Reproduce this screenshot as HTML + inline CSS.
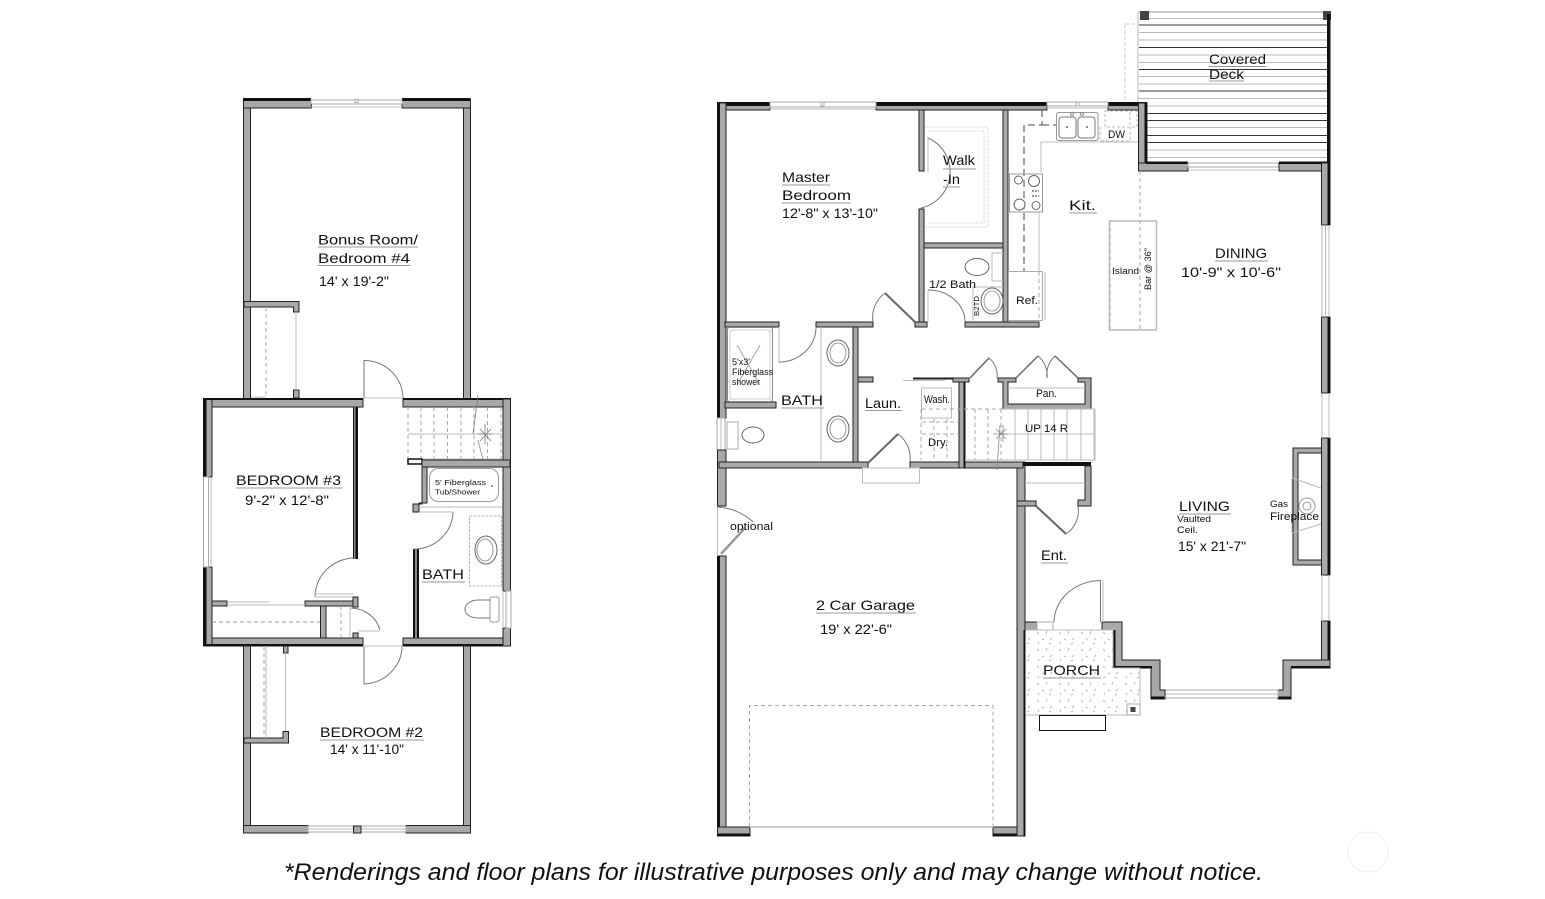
<!DOCTYPE html>
<html><head><meta charset="utf-8"><style>
html,body{margin:0;padding:0;background:#fff}
svg{display:block}
.w{fill:#a8a8a8;stroke:#222;stroke-width:1}
.k{fill:#111}
.l{fill:none;stroke:#777;stroke-width:1}
.g{fill:none;stroke:#bbb;stroke-width:1}
.d{fill:none;stroke:#aaa;stroke-width:1;stroke-dasharray:4 3}
.dk{fill:none;stroke:#444;stroke-width:1;stroke-dasharray:7 4}
.u{stroke:#999;stroke-width:1}
.win{fill:#fff;stroke:#aaa;stroke-width:1}
text{font-family:"Liberation Sans",sans-serif;fill:#111}
</style></head><body>
<svg width="1545" height="899" viewBox="0 0 1545 899" xmlns="http://www.w3.org/2000/svg">
<defs><pattern id="st" width="22" height="17" patternUnits="userSpaceOnUse"><path d="M3 3l2 2M13 2l-1 3M8 10l2 1M18 9l-2 2M4 15l1-2M15 15l2-1" stroke="#bbb" stroke-width="1" fill="none"/></pattern></defs>

<!-- LEFT PLAN -->
<rect class="w" x="243.5" y="99" width="7" height="308"/>
<rect class="w" x="463.5" y="99" width="7" height="308"/>
<rect class="w" x="243.5" y="100" width="68" height="8"/>
<rect class="w" x="402" y="100" width="68.5" height="8"/>
<rect class="k" x="243" y="98" width="68" height="3"/><rect class="k" x="402" y="98" width="68" height="3"/>
<rect class="win" x="311" y="100" width="91" height="4"/><path class="g" d="M311 107H402"/><rect class="win" x="355" y="99.5" width="3" height="3"/>
<path class="w" d="M244 301.5H299V312H293.500V307H244Z"/>
<path class="w" d="M293.500 390H299V398H293.500Z"/>
<path class="g" d="M296 312V390"/><path class="d" d="M266 307V398"/><path class="g" d="M251 397H266"/>
<path class="l" d="M364 398V360.500A39 38 0 0 1 403 398"/><path class="g" d="M363 398H403"/>
<rect class="w" x="204" y="399" width="159" height="8"/>
<rect class="w" x="403" y="399" width="107" height="8"/>
<rect class="w" x="204" y="638" width="159" height="8"/>
<rect class="w" x="403" y="638" width="107.500" height="8"/>
<rect class="w" x="204" y="399" width="8" height="78"/>
<rect class="w" x="204" y="567" width="8" height="79"/>
<rect class="k" x="203" y="399" width="3.500" height="78"/><rect class="k" x="203" y="567" width="3.500" height="79"/>
<rect class="k" x="203" y="644" width="160" height="2"/><rect class="k" x="403" y="644" width="108" height="2"/><rect class="k" x="203" y="398" width="160" height="2"/><rect class="k" x="403" y="398" width="108" height="2"/>
<rect class="win" x="203.500" y="477" width="5" height="90"/><path class="g" d="M211 477V567"/>
<rect class="w" x="503" y="399" width="7.500" height="192"/>
<rect class="w" x="503" y="628" width="7.500" height="18"/>
<rect class="win" x="506" y="591" width="5" height="37"/><path class="g" d="M503 591V628"/>
<rect class="k" x="353" y="407" width="5" height="152"/><rect fill="#888" x="354" y="407" width="1.500" height="152"/>
<path class="l" d="M355 558A40 39 0 0 0 315 597"/><path class="g" d="M315 597H353M315 594H353"/>
<rect class="w" x="212" y="601" width="15" height="5"/><rect class="w" x="305" y="601" width="48" height="5"/>
<rect class="w" x="353" y="597" width="5" height="10"/>
<path class="g" d="M227 602H270M227 605H305"/>
<path class="d" d="M212 622H320" style="stroke:#999"/>
<rect class="w" x="320.500" y="606" width="5.500" height="32"/>
<path class="d" d="M341 606V637"/><path class="g" d="M350 606V637"/>
<path class="l" d="M351 608A31 29 0 0 1 380 630"/><path class="g" d="M358 631H380"/>
<rect class="w" x="353" y="633" width="5" height="5"/>
<path class="l" d="M364 646V684A40 38 0 0 0 402 646"/><path class="g" d="M363 646H403"/>
<path class="g" d="M408 434H502M408 459H502"/>
<path class="d" d="M408 407V459M421 407V459M434 407V459M447.500 407V459M461 407V459M474 407V459M487.500 407V459M501 407V459" />
<path d="M478 395L473 434M485 424L485 444M478 434H492M480 429L491 441M491 429L480 441" stroke="#777" stroke-width=".8" fill="none"/>
<path d="M478 440L483 460M483 460V478" stroke="#888" stroke-width=".8" fill="none"/>
<rect x="408" y="459" width="14" height="5" fill="#fff" stroke="#111" stroke-width="1.500"/>
<rect class="w" x="422" y="460" width="88" height="7"/>
<path class="w" d="M422 467H427V503H419V512H413V504H422Z"/>
<rect class="k" x="413" y="549" width="6" height="89"/><rect fill="#888" x="415" y="549" width="2" height="89"/>
<path class="l" d="M414 549A39 38 0 0 0 453 512"/><path class="g" d="M419 512H453M419 507H502"/>
<rect x="429.500" y="468.500" width="69" height="33" rx="9" fill="#fff" stroke="#999"/>
<circle cx="492" cy="486" r="1" fill="#777"/>
<rect x="469.500" y="516" width="32" height="70" fill="#fff" stroke="#bbb" stroke-dasharray="3 1"/>
<ellipse cx="486" cy="550" rx="11" ry="14" fill="#fff" stroke="#666"/><ellipse cx="485" cy="550" rx="8" ry="11" fill="none" stroke="#999"/>
<rect x="490" y="597" width="9" height="25" rx="2" fill="#fff" stroke="#999"/>
<path class="l" d="M490 600H478C470 600 465 605 465 609C465 614 470 618 478 618H490"/>
<rect class="w" x="243.500" y="646" width="7" height="187"/>
<rect class="w" x="463.500" y="646" width="7" height="187"/>
<rect class="w" x="243.500" y="825.500" width="64.500" height="7.500"/>
<rect class="w" x="406" y="825.500" width="64.500" height="7.500"/>
<rect class="win" x="308" y="826" width="98" height="6"/><path class="g" d="M308 829H406"/>
<rect class="w" x="353.500" y="826" width="7.500" height="7"/>
<path class="w" d="M283.500 646H288V653H283.500Z"/>
<path class="w" d="M244 738H283V731.500H288.500V743H244Z"/>
<path class="g" d="M285.500 653V731"/><path class="d" d="M264 646V738"/><path class="g" d="M266 646V738"/>
<g font-size="14">
<text x="318" y="244.500" textLength="100" lengthAdjust="spacingAndGlyphs">Bonus Room/</text><path class="u" d="M318 247H418"/>
<text x="318" y="263" textLength="92" lengthAdjust="spacingAndGlyphs">Bedroom #4</text><path class="u" d="M318 265.500H410"/>
<text x="319" y="286" textLength="70" lengthAdjust="spacingAndGlyphs">14' x 19'-2"</text>
<text x="236" y="485" textLength="105" lengthAdjust="spacingAndGlyphs">BEDROOM #3</text><path class="u" d="M236 488H342"/>
<text x="245" y="505" textLength="84" lengthAdjust="spacingAndGlyphs">9'-2" x 12'-8"</text>
<text x="422" y="579" textLength="42" lengthAdjust="spacingAndGlyphs">BATH</text><path class="u" d="M422 582H465"/>
<text x="320" y="737" textLength="103" lengthAdjust="spacingAndGlyphs">BEDROOM #2</text><path class="u" d="M320 740H424"/>
<text x="330" y="754" textLength="74" lengthAdjust="spacingAndGlyphs">14' x 11'-10"</text>
</g>
<g font-size="7.500">
<text x="435" y="485" textLength="51" lengthAdjust="spacingAndGlyphs">5' Fiberglass</text>
<text x="435" y="494.500" textLength="45" lengthAdjust="spacingAndGlyphs">Tub/Shower</text>
</g>

<!-- RIGHT PLAN -->
<path d="M1125 24H1138M1125 24V102" stroke="#ccc" stroke-dasharray="4 2" fill="none"/>
<rect x="1138" y="11" width="190" height="2" fill="#ccc"/><path class="g" d="M1138 13V102"/>
<g stroke="#b8b8b8" stroke-width="1" fill="none">
<path d="M1139 18.500H1327M1139 32.500H1327M1139 40H1327M1139 55H1327M1139 62.500H1327M1139 76.500H1327M1139 84H1327M1139 98.500H1327M1147 106H1327M1147 127.500H1327M1147 150H1327M1147 157.500H1327"/>
</g>
<g stroke="#333" stroke-width="1" fill="none">
<path d="M1139 25H1327M1139 47.500H1327M1139 69.500H1327M1139 91H1327M1147 113.500H1327M1147 120.500H1327M1147 135.500H1327M1147 142.500H1327"/>
</g>
<rect x="1140" y="11" width="9" height="9" fill="#444"/><rect x="1323" y="11" width="8" height="9" fill="#444"/>
<rect class="k" x="1327" y="14" width="3.500" height="149"/>
<rect class="w" x="717.500" y="103" width="52.500" height="7"/>
<rect class="w" x="876" y="103" width="171" height="7"/>
<rect class="w" x="1108" y="103" width="39" height="7"/>
<rect class="k" x="717" y="102" width="53" height="4"/><rect class="k" x="876" y="102" width="171" height="4"/><rect class="k" x="1108" y="102" width="39" height="4"/>
<rect class="win" x="770" y="102" width="106" height="5"/><path class="g" d="M770 109H876"/><rect class="win" x="821" y="102" width="3" height="4"/>
<rect class="win" x="1047" y="102" width="61" height="4"/><path class="g" d="M1047 108H1108"/><rect class="win" x="1076" y="102" width="3" height="4"/>
<rect class="w" x="1138.500" y="103" width="8.500" height="68"/>
<rect class="k" x="1144.500" y="103" width="2.500" height="60"/>
<rect class="w" x="1138.500" y="163" width="49.500" height="8"/>
<rect class="k" x="1146" y="161.500" width="42" height="2.500"/>
<rect class="win" x="1188" y="163" width="91" height="4"/><path class="g" d="M1188 170H1279"/>
<rect class="w" x="1279" y="163" width="51" height="8"/>
<rect class="k" x="1279" y="161.500" width="51" height="2.500"/>
<rect class="w" x="1321.500" y="163" width="8.500" height="62"/>
<rect class="w" x="1321.500" y="317" width="8.500" height="76"/>
<rect class="w" x="1321.500" y="438" width="8.500" height="137"/>
<rect class="w" x="1321.500" y="621" width="8.500" height="47"/>
<rect class="k" x="1327.500" y="163" width="2.500" height="62"/><rect class="k" x="1327.500" y="317" width="2.500" height="76"/><rect class="k" x="1327.500" y="438" width="2.500" height="137"/><rect class="k" x="1327.500" y="621" width="2.500" height="47"/>
<path class="g" d="M1322 225V317M1329 225V317M1322 393V438M1329 393V438M1322 575V621M1329 575V621M1325.500 225V317"/>
<path class="w" d="M1330 660V668H1291V699H1278V690H1283V660Z"/>
<rect class="k" x="1291" y="666" width="39" height="2.500"/><rect class="k" x="1278" y="696.500" width="13" height="2.500"/>
<rect class="win" x="1165" y="690" width="113" height="8"/><path class="g" d="M1165 694H1278"/>
<path class="w" d="M1113 622H1122V660H1160V690H1165V699H1151V668H1113V630H1102V622Z"/>
<rect class="k" x="1113" y="666" width="39" height="2.500"/><rect class="k" x="1113" y="630" width="2.500" height="38"/><rect class="k" x="1151" y="696.500" width="13" height="2.500"/>
<rect class="w" x="1024" y="622" width="13" height="8"/>
<rect class="win" x="1037" y="622" width="16" height="8"/>
<path class="l" d="M1100.500 622V580.500A47 42 0 0 0 1054 622"/><path class="g" d="M1103 622V580"/>
<path d="M1025 630H1113V668H1140V715H1025Z" fill="url(#st)" stroke="#bbb" stroke-width="1"/>
<rect x="1127" y="704" width="13" height="11" fill="#fff" stroke="#aaa"/><rect x="1130.500" y="707" width="5" height="5" fill="#444"/>
<rect x="1039.500" y="715.500" width="66" height="15" fill="#fff" stroke="#111" stroke-width="1"/>
<rect class="w" x="717.500" y="103" width="8.500" height="315"/>
<rect class="k" x="717" y="103" width="3" height="315"/>
<rect class="win" x="717" y="418" width="8" height="32"/><path class="g" d="M721 418V450"/>
<rect class="w" x="717.500" y="450" width="8.500" height="56"/>
<rect class="w" x="717.500" y="556" width="8.500" height="280"/>
<rect class="k" x="717" y="556" width="3" height="280"/>
<rect class="w" x="717.500" y="827" width="32.500" height="9"/><rect class="k" x="717" y="833.500" width="33" height="2.500"/>
<rect class="w" x="993" y="827" width="32" height="9"/><rect class="k" x="993" y="833.500" width="32" height="2.500"/>
<rect class="w" x="1017" y="462" width="8" height="374"/>
<rect class="k" x="1023.500" y="630" width="1.500" height="206"/>
<path class="d" d="M749.500 827V705.500H993V827"/>
<path d="M750 827H993" stroke="#ccc" stroke-width="2"/>
<path class="g" d="M717.500 506V556"/><path class="l" d="M717 507A52 44 0 0 1 753 522"/>
<path d="M721 554L745 528" stroke="#999" stroke-width="2.500" fill="none"/>
<rect class="w" x="719" y="462" width="149" height="6"/>
<rect class="w" x="910" y="462" width="113" height="6"/>
<rect class="k" x="1023" y="462" width="68" height="4"/>
<path class="w" d="M1085 466H1091V506H1078V500H1085Z"/>
<path class="w" d="M1017 501H1036V506H1017Z"/>
<path d="M1036 506L1066 534" stroke="#666" stroke-width="2" fill="none"/><path class="l" d="M1066 534A28 28 0 0 0 1078 506"/>
<path class="g" d="M1025 483H1085"/>
<rect x="862.500" y="468" width="57" height="15" fill="#fff" stroke="#bbb"/>
<path d="M868 463L898 434" stroke="#666" stroke-width="2" fill="none"/><path class="l" d="M898 434A30 30 0 0 1 910 462"/>
<rect class="w" x="919" y="110" width="5" height="61"/><rect class="w" x="919" y="209" width="5" height="114"/>
<rect class="w" x="1003" y="110" width="5" height="212"/>
<rect class="w" x="924" y="243" width="79" height="5"/>
<path d="M925 127H988V227H925M929 131H984V223H929" fill="none" stroke="#ddd" stroke-width="1" stroke-dasharray="3 1"/>
<path class="l" d="M928 171V138A37 37 0 0 1 921 208"/><path class="g" d="M928 138V172"/>
<rect class="w" x="725" y="322" width="54" height="5"/>
<rect class="w" x="816" y="322" width="57" height="5"/>
<rect class="w" x="915" y="322" width="12" height="5"/>
<rect class="w" x="965" y="322" width="74" height="5"/>
<path d="M885 293L915 322" stroke="#666" stroke-width="2" fill="none"/><path class="l" d="M873 322A30 30 0 0 1 885 293"/>
<path class="g" d="M928 290V322"/><path class="l" d="M928 290A37 32 0 0 1 965 322"/>
<rect class="w" x="853" y="327" width="5" height="135"/>
<rect class="w" x="858" y="377" width="15" height="5"/>
<rect class="w" x="725" y="402" width="51" height="6"/>
<path class="g" d="M779 327V362"/><path class="l" d="M779 362A37 35 0 0 0 816 327"/>
<rect x="727.500" y="327.500" width="45" height="74" rx="2" fill="#fff" stroke="#888"/><rect x="730" y="330" width="40" height="69" fill="none" stroke="#ccc"/>
<path d="M737 345L760 385M760 345L737 385" stroke="#aaa" fill="none"/>
<path class="g" d="M821 327V462"/>
<ellipse cx="838" cy="353" rx="11" ry="13" fill="#fff" stroke="#666"/><ellipse cx="838" cy="353" rx="8" ry="10" fill="none" stroke="#999"/>
<ellipse cx="838" cy="429" rx="11" ry="13" fill="#fff" stroke="#666"/><ellipse cx="838" cy="429" rx="8" ry="10" fill="none" stroke="#999"/>
<rect x="727" y="422" width="11" height="27" fill="#fff" stroke="#aaa"/>
<ellipse cx="753" cy="435" rx="11" ry="8" fill="#fff" stroke="#666"/>
<ellipse cx="977" cy="267" rx="12" ry="8.500" fill="#fff" stroke="#666"/>
<path class="g" d="M1003 253H992V281H1003"/>
<path class="g" d="M973 287V322M973 287H1003"/>
<ellipse cx="992" cy="301" rx="11" ry="13" fill="#fff" stroke="#666"/><ellipse cx="992" cy="301" rx="8" ry="10" fill="none" stroke="#999"/>
<path class="g" d="M1041 172V142H1138"/>
<rect x="1056.500" y="112.500" width="41.500" height="28" rx="2" fill="#fff" stroke="#999"/>
<rect x="1059" y="117" width="17" height="21" rx="3" fill="none" stroke="#777"/><rect x="1078" y="117" width="17" height="21" rx="3" fill="none" stroke="#777"/>
<circle cx="1067" cy="127" r="1" fill="#666"/><circle cx="1087" cy="127" r="1" fill="#666"/>
<circle cx="1072" cy="114" r="1.500" fill="none" stroke="#888"/><circle cx="1082" cy="114" r="1.500" fill="none" stroke="#888"/>
<path d="M1105 111H1137V127H1105Z" fill="none" stroke="#bbb" stroke-dasharray="3 2"/>
<path d="M1100 127V141H1130V112" fill="none" stroke="#bbb" stroke-dasharray="3 2"/>
<path class="dk" d="M1042 110V125H1024V272M1042 125H1056"/>
<rect x="1009.500" y="174" width="33" height="38" fill="none" stroke="#999"/>
<circle cx="1018.500" cy="180" r="4" fill="#fff" stroke="#666"/><circle cx="1034" cy="181" r="5.500" fill="#fff" stroke="#666"/>
<circle cx="1019.500" cy="204.500" r="5.500" fill="#fff" stroke="#666"/><circle cx="1036" cy="205.500" r="4" fill="#fff" stroke="#666"/>
<path d="M1032 191h7M1032 196h7" stroke="#777" stroke-width="1.500" stroke-dasharray="2 1"/>
<path class="g" d="M1039 212V272"/>
<rect x="1008.500" y="271.500" width="34" height="49" fill="#fff" stroke="#aaa"/><path class="d" d="M1039 272V320"/><path class="g" d="M1045 272V320"/>
<rect x="1109.500" y="221" width="47" height="109" fill="#fff" stroke="#bbb" stroke-width="1.500"/><path class="d" d="M1110 221V330"/>
<path class="d" d="M1140 171V330"/>
<rect x="913" y="377.500" width="47" height="2" fill="#222"/><path class="g" d="M903 380.500H945"/>
<rect class="w" x="953" y="378" width="16" height="4"/>
<rect class="w" x="959" y="382" width="6" height="86"/>
<path class="k" d="M963.500 382h1.500v86h-1.500z"/>
<path d="M970 378L989 358" stroke="#666" stroke-width="1.500" fill="none"/><path class="l" d="M989 358A22 22 0 0 1 997 378"/>
<path class="w" d="M998 378H1016V382H1008V404H1085V382H1078V378H1091V409H1003V382H998Z"/>
<path class="g" d="M1008 388H1085"/>
<path d="M1016 378L1038 356M1078 378L1055 356" stroke="#666" stroke-width="1.500" fill="none"/>
<path class="l" d="M1038 356A25 25 0 0 1 1047 378M1047 378A25 25 0 0 1 1055 356"/>
<rect x="921.500" y="388" width="30" height="30" fill="none" stroke="#bbb"/>
<path class="g" d="M1003 409H1095V460H965M1003 434H1095"/>
<path class="d" d="M922 409H1003M922 434H958M922 422H958"/>
<path class="d" d="M921 409V460M934 419V460M947 419V460M975 409V460M988 409V460"/>
<path class="g" d="M1015 409V460M1028 409V460M1041 409V460M1054 409V460M1067 409V460M1081 409V460M1094 409V460"/>
<path class="d" d="M1001 409V460"/>
<path d="M1000 425L997 470M1003 425V442M993 434H1008M996 429L1006 439M1006 429L996 439" stroke="#888" stroke-width=".8" fill="none"/>
<path class="w" d="M1321.500 448H1293V565H1321.500V560H1298V453H1321.500Z"/>
<path class="g" d="M1292 478L1321 488M1292 533L1321 524M1292 478V533"/>
<circle cx="1307" cy="506" r="8" fill="none" stroke="#999"/><circle cx="1307" cy="506" r="4" fill="none" stroke="#999"/>
<g font-size="14">
<text x="1209" y="64" textLength="57" lengthAdjust="spacingAndGlyphs">Covered</text><path class="u" d="M1209 66.500H1266"/>
<text x="1209" y="79" textLength="35" lengthAdjust="spacingAndGlyphs">Deck</text><path class="u" d="M1209 81H1244"/>
<text x="1215" y="258" textLength="52" lengthAdjust="spacingAndGlyphs">DINING</text><path class="u" d="M1215 261H1268"/>
<text x="1181" y="277" textLength="100" lengthAdjust="spacingAndGlyphs">10'-9" x 10'-6"</text>
<text x="782" y="182" textLength="48" lengthAdjust="spacingAndGlyphs">Master</text><path class="u" d="M782 185H830"/>
<text x="782" y="200" textLength="69" lengthAdjust="spacingAndGlyphs">Bedroom</text><path class="u" d="M782 203H851"/>
<text x="782" y="218" textLength="96" lengthAdjust="spacingAndGlyphs">12'-8" x 13'-10"</text>
<text x="943" y="165" textLength="32" lengthAdjust="spacingAndGlyphs">Walk</text><path class="u" d="M943 169H976"/>
<text x="943" y="184" textLength="17" lengthAdjust="spacingAndGlyphs">-In</text><path class="u" d="M943 187H960"/>
<text x="781" y="405" textLength="42" lengthAdjust="spacingAndGlyphs">BATH</text><path class="u" d="M781 408H824"/>
<text x="865" y="408" textLength="36" lengthAdjust="spacingAndGlyphs">Laun.</text><path class="u" d="M865 410.500H902"/>
<text x="1069" y="210" textLength="27" lengthAdjust="spacingAndGlyphs">Kit.</text><path class="u" d="M1069 213H1097"/>
<text x="816" y="610" textLength="99" lengthAdjust="spacingAndGlyphs">2 Car Garage</text><path class="u" d="M816 613H916"/>
<text x="820" y="634" textLength="72" lengthAdjust="spacingAndGlyphs">19' x 22'-6"</text>
<text x="1041" y="560" textLength="26" lengthAdjust="spacingAndGlyphs">Ent.</text><path class="u" d="M1041 563H1068"/>
<text x="1179" y="511" textLength="51" lengthAdjust="spacingAndGlyphs">LIVING</text><path class="u" d="M1179 514H1231"/>
<text x="1178" y="551" textLength="68" lengthAdjust="spacingAndGlyphs">15' x 21'-7"</text>
<text x="1043" y="675" textLength="57" lengthAdjust="spacingAndGlyphs">PORCH</text><path class="u" d="M1043 678H1101"/>
</g>
<g font-size="11">
<text x="929" y="288" textLength="47" lengthAdjust="spacingAndGlyphs">1/2 Bath</text>
<text x="730" y="530" textLength="43" lengthAdjust="spacingAndGlyphs">optional</text>
<text x="1025" y="432" textLength="43" lengthAdjust="spacingAndGlyphs">UP 14 R</text>
<text x="1036" y="397" textLength="21" lengthAdjust="spacingAndGlyphs">Pan.</text>
<text x="1108" y="138" textLength="17" lengthAdjust="spacingAndGlyphs">DW</text>
<text x="1016" y="304" textLength="22" lengthAdjust="spacingAndGlyphs">Ref.</text>
<text x="924" y="403" textLength="26" lengthAdjust="spacingAndGlyphs">Wash.</text>
<text x="928" y="446" textLength="20" lengthAdjust="spacingAndGlyphs">Dry.</text>
<text x="1270" y="520" textLength="49" lengthAdjust="spacingAndGlyphs">Fireplace</text>
</g>
<g font-size="9">
<text x="1270" y="507" textLength="18" lengthAdjust="spacingAndGlyphs">Gas</text>
<text x="1177" y="522" textLength="34" lengthAdjust="spacingAndGlyphs">Vaulted</text>
<text x="1177" y="533" textLength="21" lengthAdjust="spacingAndGlyphs">Ceil.</text>
<text x="1112" y="274" textLength="27" lengthAdjust="spacingAndGlyphs">Island</text>
<text x="732" y="365" textLength="18" lengthAdjust="spacingAndGlyphs">5'x3'</text>
<text x="732" y="375" textLength="41" lengthAdjust="spacingAndGlyphs">Fiberglass</text>
<text x="732" y="385" textLength="28" lengthAdjust="spacingAndGlyphs">shower</text>
<text transform="translate(1151,290) rotate(-90)" textLength="42" lengthAdjust="spacingAndGlyphs">Bar @ 36"</text>
<text font-size="7" transform="translate(979,316) rotate(-90)" textLength="20" lengthAdjust="spacingAndGlyphs">B2TD</text>
</g>
<text x="284" y="880" font-size="24" font-style="italic" fill="#222" textLength="979" lengthAdjust="spacingAndGlyphs">*Renderings and floor plans for illustrative purposes only and may change without notice.</text>
<circle cx="1368" cy="852" r="20" fill="none" stroke="#eee" stroke-width="1"/>
</svg>
</body></html>
